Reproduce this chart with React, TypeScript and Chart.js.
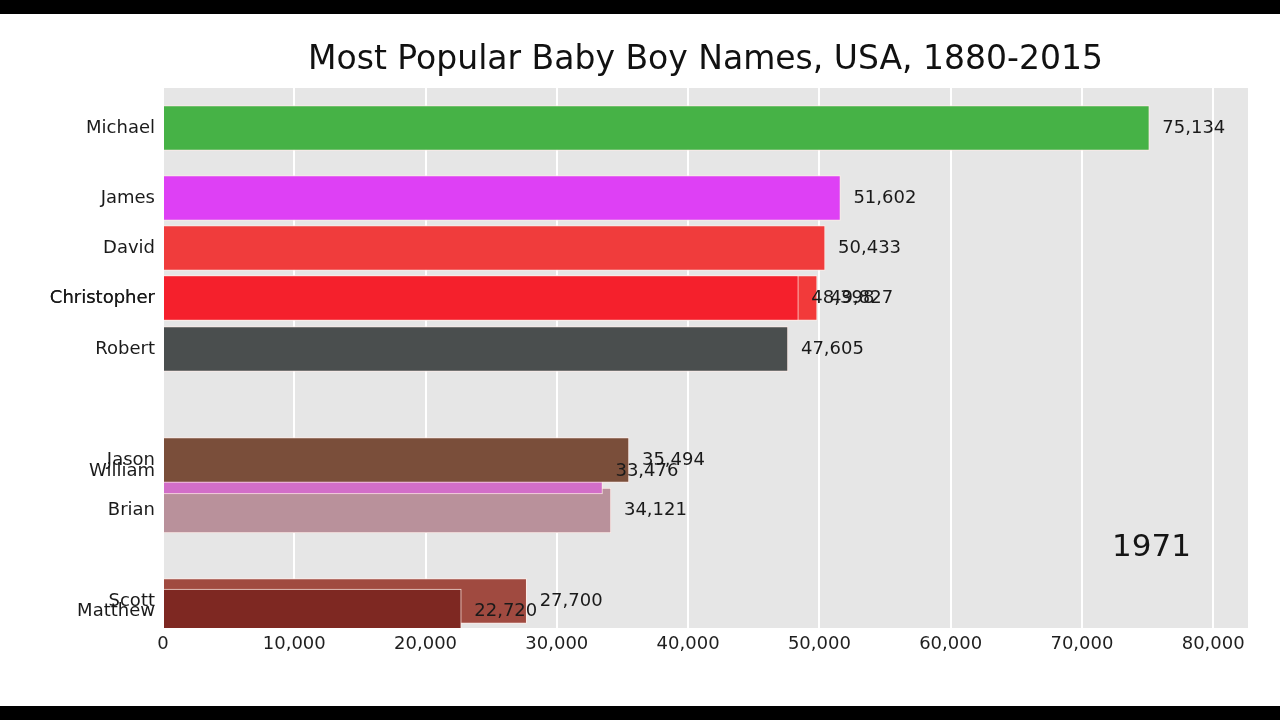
import React, { useEffect, useRef } from "react";
import { Chart, registerables } from "chart.js";

Chart.register(...registerables);

// ---- data ----
const titleText = "Most Popular Baby Boy Names, USA, 1880-2015";
const yearText = "1971";
// draw order (later bars are drawn on top)
const names = ["Michael", "James", "David", "Christopher", "Christopher", "Robert", "Brian", "William", "Jason", "Scott", "Matthew"];
const values = [75134, 51602, 50433, 49827, 48398, 47605, 34121, 33476, 35494, 27700, 22720];
// vertical position of each bar (rank position mid-transition)
const positions = [10.0, 8.6, 7.6, 6.6, 6.6, 5.58, 2.35, 3.13, 3.36, 0.54, 0.33];
const barColors = ["#46b246", "#de40f5", "#f03c3c", "#f23a3a", "#f5202c", "#4a4e4e", "#b9919b", "#d26ec8", "#7a4e3a", "#a04a40", "#7e2822"];
const xTickValues = [0, 10000, 20000, 30000, 40000, 50000, 60000, 70000, 80000];
const xMax = 82650;
const yMin = 0;
const yMax = 10.8;

const FONT = "'DejaVu Sans', sans-serif";

const fmt = (v: number) => v.toLocaleString("en-US");

export default function App() {
  const canvasRef = useRef<HTMLCanvasElement | null>(null);

  useEffect(() => {
    if (!canvasRef.current) return;

    const framePlugin = {
      id: "frame",
      beforeDraw(chart: any) {
        const { ctx, chartArea } = chart;
        ctx.save();
        ctx.fillStyle = "#000";
        ctx.fillRect(0, 0, chart.width, chart.height);
        ctx.fillStyle = "#fff";
        ctx.fillRect(0, 14, chart.width, chart.height - 28);
        ctx.fillStyle = "#e6e6e6";
        ctx.fillRect(chartArea.left, chartArea.top, chartArea.right - chartArea.left, chartArea.bottom - chartArea.top);
        ctx.restore();
      },
      afterDraw(chart: any) {
        const { ctx, chartArea } = chart;
        ctx.save();
        ctx.fillStyle = "#111";
        ctx.font = `33px ${FONT}`;
        ctx.textAlign = "center";
        ctx.textBaseline = "middle";
        ctx.fillText(titleText, (chartArea.left + chartArea.right) / 2, 60);
        ctx.font = `31px ${FONT}`;
        ctx.textAlign = "right";
        ctx.textBaseline = "alphabetic";
        ctx.fillStyle = "#151515";
        ctx.fillText(yearText, chartArea.right - 57, chartArea.bottom - 72);
        ctx.restore();
      },
      afterDatasetsDraw(chart: any) {
        const { ctx } = chart;
        const meta = chart.getDatasetMeta(0);
        ctx.save();
        ctx.font = `18px ${FONT}`;
        ctx.fillStyle = "#1a1a1a";
        ctx.textAlign = "left";
        ctx.textBaseline = "middle";
        meta.data.forEach((bar: any, i: number) => {
          ctx.fillText(fmt(values[i]), bar.x + 13, bar.y);
        });
        ctx.restore();
      },
    };

    const chart = new Chart(canvasRef.current, {
      type: "bar",
      data: {
        datasets: [
          {
            data: names.map((_, i) => ({ x: values[i], y: positions[i] })),
            backgroundColor: barColors,
            borderColor: "rgba(255,236,232,0.9)",
            borderWidth: 1,
            barThickness: 45,
          } as any,
        ],
      },
      options: {
        indexAxis: "y",
        animation: false,
        responsive: false,
        devicePixelRatio: 1,
        events: [],
        layout: { padding: { left: 0, right: 32, top: 88, bottom: 52 } },
        plugins: {
          legend: { display: false },
          title: { display: false },
          tooltip: { enabled: false },
        },
        scales: {
          x: {
            type: "linear",
            min: 0,
            max: xMax,
            offset: false,
            grid: { color: "#ffffff", lineWidth: 2, drawTicks: false },
            border: { display: false },
            afterBuildTicks: (scale: any) => {
              scale.ticks = xTickValues.map((v) => ({ value: v }));
            },
            afterFit: (scale: any) => {
              scale.height = 40;
            },
            ticks: {
              padding: 6,
              color: "#1e1e1e",
              font: { family: FONT, size: 18 },
              autoSkip: false,
              maxRotation: 0,
              callback: (v: any) => fmt(Number(v)),
            },
          },
          y: {
            type: "linear",
            min: yMin,
            max: yMax,
            offset: false,
            grid: { display: false },
            border: { display: false },
            afterBuildTicks: (scale: any) => {
              scale.ticks = positions.map((v) => ({ value: v }));
            },
            afterFit: (scale: any) => {
              scale.width = 163;
            },
            ticks: {
              padding: 0,
              color: "#1a1a1a",
              font: { family: FONT, size: 18 },
              autoSkip: false,
              callback: (_v: any, i: number) => names[i],
            },
          },
        },
      },
      plugins: [framePlugin],
    });

    return () => chart.destroy();
  }, []);

  return (
    <div style={{ position: "fixed", left: 0, top: 0, width: 1280, height: 720 }}>
      <canvas ref={canvasRef} width={1280} height={720} />
    </div>
  );
}
